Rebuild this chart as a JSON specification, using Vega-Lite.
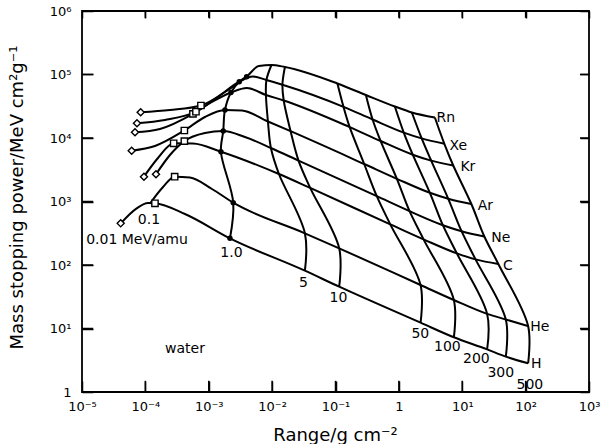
{
  "$schema": "https://vega.github.io/schema/vega-lite/v6.json",
  "width": 507,
  "height": 381,
  "autosize": {"type": "none"},
  "padding": {"left": 82, "top": 11, "right": 18, "bottom": 52},
  "background": "white",
  "config": {
    "view": {"stroke": "black", "strokeWidth": 1.8},
    "font": "DejaVu Sans"
  },
  "datasets": {
    "pts": [
      {"ion":"H","Z":1,"E":0.01,"R":4.08e-5,"S":453},
      {"ion":"H","Z":1,"E":0.03,"R":7.29e-5,"S":781},
      {"ion":"H","Z":1,"E":0.06,"R":1.10e-4,"S":947},
      {"ion":"H","Z":1,"E":0.1,"R":1.417e-4,"S":937},
      {"ion":"H","Z":1,"E":0.3,"R":4.21e-4,"S":636},
      {"ion":"H","Z":1,"E":1,"R":2.16e-3,"S":263},
      {"ion":"H","Z":1,"E":5,"R":0.0329,"S":81.3},
      {"ion":"H","Z":1,"E":10,"R":0.1144,"S":45.5},
      {"ion":"H","Z":1,"E":50,"R":2.199,"S":12.34},
      {"ion":"H","Z":1,"E":100,"R":7.37,"S":7.27},
      {"ion":"H","Z":1,"E":200,"R":24.7,"S":4.70},
      {"ion":"H","Z":1,"E":300,"R":48.7,"S":3.60},
      {"ion":"H","Z":1,"E":500,"R":109.5,"S":2.83},

      {"ion":"He","Z":2,"E":0.02,"R":1.182e-4,"S":930},
      {"ion":"He","Z":2,"E":0.05,"R":1.916e-4,"S":1711},
      {"ion":"He","Z":2,"E":0.1,"R":2.898e-4,"S":2458},
      {"ion":"He","Z":2,"E":0.2,"R":5.05e-4,"S":2388},
      {"ion":"He","Z":2,"E":0.5,"R":1.123e-3,"S":1573},
      {"ion":"He","Z":2,"E":1,"R":2.434e-3,"S":957},
      {"ion":"He","Z":2,"E":5,"R":0.0329,"S":315.6},
      {"ion":"He","Z":2,"E":10,"R":0.1144,"S":183.2},
      {"ion":"He","Z":2,"E":50,"R":2.199,"S":48.4},
      {"ion":"He","Z":2,"E":100,"R":7.37,"S":28.1},
      {"ion":"He","Z":2,"E":200,"R":24.7,"S":17.0},
      {"ion":"He","Z":2,"E":300,"R":48.7,"S":13.86},
      {"ion":"He","Z":2,"E":500,"R":109.5,"S":10.95},

      {"ion":"C","Z":6,"E":0.01,"R":9.50e-5,"S":2458},
      {"ion":"C","Z":6,"E":0.03,"R":1.580e-4,"S":4842},
      {"ion":"C","Z":6,"E":0.1,"R":2.795e-4,"S":8254},
      {"ion":"C","Z":6,"E":0.3,"R":5.63e-4,"S":8195},
      {"ion":"C","Z":6,"E":1,"R":1.557e-3,"S":6085},
      {"ion":"C","Z":6,"E":5,"R":0.01281,"S":2711},
      {"ion":"C","Z":6,"E":10,"R":0.0399,"S":1638},
      {"ion":"C","Z":6,"E":50,"R":0.7316,"S":436},
      {"ion":"C","Z":6,"E":100,"R":2.453,"S":253},
      {"ion":"C","Z":6,"E":200,"R":8.22,"S":152.3},
      {"ion":"C","Z":6,"E":300,"R":16.21,"S":122.5},
      {"ion":"C","Z":6,"E":500,"R":37.1,"S":103.7},

      {"ion":"Ne","Z":10,"E":0.01,"R":1.470e-4,"S":2681},
      {"ion":"Ne","Z":10,"E":0.03,"R":2.443e-4,"S":5400},
      {"ion":"Ne","Z":10,"E":0.1,"R":4.122e-4,"S":8938},
      {"ion":"Ne","Z":10,"E":0.3,"R":8.71e-4,"S":11985},
      {"ion":"Ne","Z":10,"E":1,"R":1.693e-3,"S":12890},
      {"ion":"Ne","Z":10,"E":2,"R":3.724e-3,"S":10370},
      {"ion":"Ne","Z":10,"E":5,"R":9.57e-3,"S":6959},
      {"ion":"Ne","Z":10,"E":10,"R":0.02609,"S":4406},
      {"ion":"Ne","Z":10,"E":50,"R":0.4481,"S":1212},
      {"ion":"Ne","Z":10,"E":100,"R":1.475,"S":703.5},
      {"ion":"Ne","Z":10,"E":200,"R":4.943,"S":423.5},
      {"ion":"Ne","Z":10,"E":300,"R":9.75,"S":340.7},
      {"ion":"Ne","Z":10,"E":500,"R":22.32,"S":281.1},

      {"ion":"Ar","Z":18,"E":0.01,"R":6.08e-5,"S":6310},
      {"ion":"Ar","Z":18,"E":0.03,"R":1.417e-4,"S":7482},
      {"ion":"Ar","Z":18,"E":0.1,"R":4.122e-4,"S":13125},
      {"ion":"Ar","Z":18,"E":0.3,"R":8.71e-4,"S":21415},
      {"ion":"Ar","Z":18,"E":1,"R":1.801e-3,"S":27605},
      {"ion":"Ar","Z":18,"E":2,"R":3.339e-3,"S":27110},
      {"ion":"Ar","Z":18,"E":5,"R":8.59e-3,"S":18190},
      {"ion":"Ar","Z":18,"E":10,"R":0.01957,"S":12798},
      {"ion":"Ar","Z":18,"E":50,"R":0.2836,"S":3895},
      {"ion":"Ar","Z":18,"E":100,"R":0.9301,"S":2278},
      {"ion":"Ar","Z":18,"E":200,"R":3.083,"S":1371},
      {"ion":"Ar","Z":18,"E":300,"R":6.016,"S":1103},
      {"ion":"Ar","Z":18,"E":500,"R":13.92,"S":913},

      {"ion":"Kr","Z":36,"E":0.01,"R":6.86e-5,"S":12297},
      {"ion":"Kr","Z":36,"E":0.03,"R":1.699e-4,"S":13862},
      {"ion":"Kr","Z":36,"E":0.1,"R":5.63e-4,"S":23963},
      {"ion":"Kr","Z":36,"E":0.3,"R":1.123e-3,"S":36890},
      {"ion":"Kr","Z":36,"E":1,"R":2.240e-3,"S":52060},
      {"ion":"Kr","Z":36,"E":2,"R":4.003e-3,"S":61290},
      {"ion":"Kr","Z":36,"E":5,"R":7.99e-3,"S":47560},
      {"ion":"Kr","Z":36,"E":10,"R":0.01524,"S":38960},
      {"ion":"Kr","Z":36,"E":50,"R":0.1675,"S":14850},
      {"ion":"Kr","Z":36,"E":100,"R":0.5146,"S":8971},
      {"ion":"Kr","Z":36,"E":200,"R":1.656,"S":5458},
      {"ion":"Kr","Z":36,"E":300,"R":3.232,"S":4406},
      {"ion":"Kr","Z":36,"E":500,"R":7.21,"S":3689},

      {"ion":"Xe","Z":54,"E":0.01,"R":7.37e-5,"S":17040},
      {"ion":"Xe","Z":54,"E":0.03,"R":2.038e-4,"S":19210},
      {"ion":"Xe","Z":54,"E":0.1,"R":6.28e-4,"S":25960},
      {"ion":"Xe","Z":54,"E":0.3,"R":1.397e-3,"S":44230},
      {"ion":"Xe","Z":54,"E":1,"R":3.027e-3,"S":77010},
      {"ion":"Xe","Z":54,"E":2,"R":4.98e-3,"S":93010},
      {"ion":"Xe","Z":54,"E":5,"R":8.13e-3,"S":81910},
      {"ion":"Xe","Z":54,"E":10,"R":0.01454,"S":69090},
      {"ion":"Xe","Z":54,"E":50,"R":0.1337,"S":30990},
      {"ion":"Xe","Z":54,"E":100,"R":0.3847,"S":19560},
      {"ion":"Xe","Z":54,"E":200,"R":1.195,"S":12160},
      {"ion":"Xe","Z":54,"E":300,"R":2.289,"S":9856},
      {"ion":"Xe","Z":54,"E":500,"R":5.22,"S":8105},

      {"ion":"Rn","Z":86,"E":0.01,"R":8.43e-5,"S":25390},
      {"ion":"Rn","Z":86,"E":0.03,"R":2.443e-4,"S":27605},
      {"ion":"Rn","Z":86,"E":0.1,"R":7.53e-4,"S":32500},
      {"ion":"Rn","Z":86,"E":0.3,"R":1.801e-3,"S":53030},
      {"ion":"Rn","Z":86,"E":1,"R":3.960e-3,"S":92350},
      {"ion":"Rn","Z":86,"E":2,"R":6.19e-3,"S":136100},
      {"ion":"Rn","Z":86,"E":5,"R":9.75e-3,"S":141100},
      {"ion":"Rn","Z":86,"E":10,"R":0.01591,"S":131300},
      {"ion":"Rn","Z":86,"E":50,"R":0.1072,"S":72170},
      {"ion":"Rn","Z":86,"E":100,"R":0.3017,"S":47560},
      {"ion":"Rn","Z":86,"E":200,"R":0.865,"S":31340},
      {"ion":"Rn","Z":86,"E":300,"R":1.603,"S":25210},
      {"ion":"Rn","Z":86,"E":500,"R":3.697,"S":21030}
    ],
    "lab": [
      {"t":"Rn","R":5.51,"S":20650},
      {"t":"Xe","R":8.68,"S":7482},
      {"t":"Kr","R":12.26,"S":3494},
      {"t":"Ar","R":23.14,"S":849},
      {"t":"Ne","R":40.63,"S":266.2},
      {"t":"C","R":52.4,"S":96.5},
      {"t":"He","R":167.5,"S":10.37},
      {"t":"H","R":147.5,"S":2.81},
      {"t":"0.01 MeV/amu","R":7.37e-5,"S":252},
      {"t":"0.1","R":1.14e-4,"S":511},
      {"t":"1.0","R":2.28e-3,"S":151.8},
      {"t":"5","R":0.03117,"S":53.0},
      {"t":"10","R":0.1111,"S":30.2},
      {"t":"50","R":2.183,"S":8.34},
      {"t":"100","R":5.82,"S":5.11},
      {"t":"200","R":16.69,"S":3.31},
      {"t":"300","R":40.6,"S":1.99},
      {"t":"500","R":116.5,"S":1.289},
      {"t":"water","R":4.21e-4,"S":4.84}
    ],
    "ticks": [
      {"R":1e-4,"R2":1e-4,"S":1,"S2":1.5},
      {"R":1e-3,"R2":1e-3,"S":1,"S2":1.5},
      {"R":1e-2,"R2":1e-2,"S":1,"S2":1.5},
      {"R":1e-1,"R2":1e-1,"S":1,"S2":1.5},
      {"R":1,"R2":1,"S":1,"S2":1.5},
      {"R":10,"R2":10,"S":1,"S2":1.5},
      {"R":100,"R2":100,"S":1,"S2":1.5},
      {"R":1e-4,"R2":1e-4,"S":780000,"S2":1000000},
      {"R":1e-3,"R2":1e-3,"S":780000,"S2":1000000},
      {"R":1e-2,"R2":1e-2,"S":780000,"S2":1000000},
      {"R":1e-1,"R2":1e-1,"S":780000,"S2":1000000},
      {"R":1,"R2":1,"S":780000,"S2":1000000},
      {"R":10,"R2":10,"S":780000,"S2":1000000},
      {"R":100,"R2":100,"S":780000,"S2":1000000},
      {"R":1e-5,"R2":1.5e-5,"S":10,"S2":10},
      {"R":1e-5,"R2":1.5e-5,"S":100,"S2":100},
      {"R":1e-5,"R2":1.5e-5,"S":1000,"S2":1000},
      {"R":1e-5,"R2":1.5e-5,"S":10000,"S2":10000},
      {"R":1e-5,"R2":1.5e-5,"S":100000,"S2":100000},
      {"R":720,"R2":1000,"S":10,"S2":10},
      {"R":720,"R2":1000,"S":100,"S2":100},
      {"R":720,"R2":1000,"S":1000,"S2":1000},
      {"R":720,"R2":1000,"S":10000,"S2":10000},
      {"R":720,"R2":1000,"S":100000,"S2":100000}
    ]
  },
  "resolve": {"axis": {"x": "independent", "y": "independent"}},
  "layer": [
    {
      "data": {"name": "pts"},
      "mark": {"type": "line", "color": "black", "strokeWidth": 2, "interpolate": "monotone"},
      "encoding": {
        "x": {"field": "R", "type": "quantitative", "scale": {"type": "log", "domain": [1e-5, 1000], "nice": false},
              "axis": {"orient": "bottom", "values": [1e-5,1e-4,1e-3,1e-2,1e-1,1,10,100,1000], "grid": false, "domain": false,
                       "labelExpr": "['10⁻⁵','10⁻⁴','10⁻³','10⁻²','10⁻¹','1','10¹','10²','10³'][round(log(datum.value)/LN10)+5]",
                       "ticks": true, "tickSize": -11, "tickColor": "black", "tickWidth": 1.5,
                       "labelPadding": 19, "labelFontSize": 13, "labelColor": "black", "labelFont": "DejaVu Sans", "labelFlush": false, "labelOverlap": false,
                       "title": "Range/g cm⁻²", "titleFont": "DejaVu Sans", "titleFontWeight": "normal", "titleColor": "black", "titleFontSize": 18, "titleX": 253, "titleY": 43, "titleBaseline": "middle"}},
        "y": {"field": "S", "type": "quantitative", "scale": {"type": "log", "domain": [1, 1000000], "nice": false},
              "axis": {"orient": "left", "values": [1,10,100,1000,10000,100000,1000000], "grid": false, "domain": false,
                       "labelExpr": "['1','10¹','10²','10³','10⁴','10⁵','10⁶'][round(log(datum.value)/LN10)]",
                       "ticks": true, "tickSize": -11, "tickColor": "black", "tickWidth": 1.5,
                       "labelPadding": 22, "labelFontSize": 13, "labelColor": "black", "labelFont": "DejaVu Sans", "labelFlush": false, "labelOverlap": false,
                       "title": "Mass stopping power/MeV cm²g⁻¹", "titleFont": "DejaVu Sans", "titleFontWeight": "normal", "titleColor": "black", "titleFontSize": 18, "titleX": -65, "titleY": 186, "titleAngle": -90, "titleAlign": "center", "titleBaseline": "middle"}},
        "detail": {"field": "ion"},
        "order": {"field": "R", "type": "quantitative"}
      }
    },
    {
      "data": {"name": "pts"},
      "transform": [{"filter": {"field": "E", "oneOf": [1,5,10,50,100,200,300,500]}}],
      "mark": {"type": "line", "color": "black", "strokeWidth": 2, "interpolate": "catmull-rom"},
      "encoding": {
        "x": {"field": "R", "type": "quantitative", "axis": {"orient": "top", "values": [1e-5,1e-4,1e-3,1e-2,1e-1,1,10,100,1000], "grid": false, "domain": false, "labels": false, "ticks": true, "tickSize": -7, "tickColor": "black", "tickWidth": 1.5, "title": null}},
        "y": {"field": "S", "type": "quantitative", "axis": {"orient": "right", "values": [1,10,100,1000,10000,100000,1000000], "grid": false, "domain": false, "labels": false, "ticks": true, "tickSize": -9, "tickColor": "black", "tickWidth": 1.5, "title": null}},
        "detail": {"field": "E"},
        "order": {"field": "Z", "type": "quantitative"}
      }
    },
    {
      "data": {"name": "ticks"},
      "mark": {"type": "rule", "color": "black", "strokeWidth": 1.5},
      "encoding": {
        "x": {"field": "R", "type": "quantitative", "axis": null},
        "x2": {"field": "R2"},
        "y": {"field": "S", "type": "quantitative", "axis": null},
        "y2": {"field": "S2"}
      }
    },
    {
      "data": {"name": "pts"},
      "transform": [{"filter": "datum.E === 0.01"}],
      "mark": {"type": "point", "shape": "diamond", "filled": true, "fill": "white", "stroke": "black", "strokeWidth": 1.4, "size": 50, "opacity": 1},
      "encoding": {
        "x": {"field": "R", "type": "quantitative", "axis": null},
        "y": {"field": "S", "type": "quantitative", "axis": null}
      }
    },
    {
      "data": {"name": "pts"},
      "transform": [{"filter": "datum.E === 0.1"}],
      "mark": {"type": "square", "filled": true, "fill": "white", "stroke": "black", "strokeWidth": 1.4, "size": 40, "opacity": 1},
      "encoding": {
        "x": {"field": "R", "type": "quantitative", "axis": null},
        "y": {"field": "S", "type": "quantitative", "axis": null}
      }
    },
    {
      "data": {"name": "pts"},
      "transform": [{"filter": "datum.E === 1"}],
      "mark": {"type": "circle", "color": "black", "size": 30, "opacity": 1},
      "encoding": {
        "x": {"field": "R", "type": "quantitative", "axis": null},
        "y": {"field": "S", "type": "quantitative", "axis": null}
      }
    },
    {
      "data": {"name": "lab"},
      "mark": {"type": "text", "font": "DejaVu Sans", "fontSize": 14, "color": "black", "align": "center", "baseline": "middle"},
      "encoding": {
        "x": {"field": "R", "type": "quantitative", "axis": null},
        "y": {"field": "S", "type": "quantitative", "axis": null},
        "text": {"field": "t"}
      }
    }
  ]
}
